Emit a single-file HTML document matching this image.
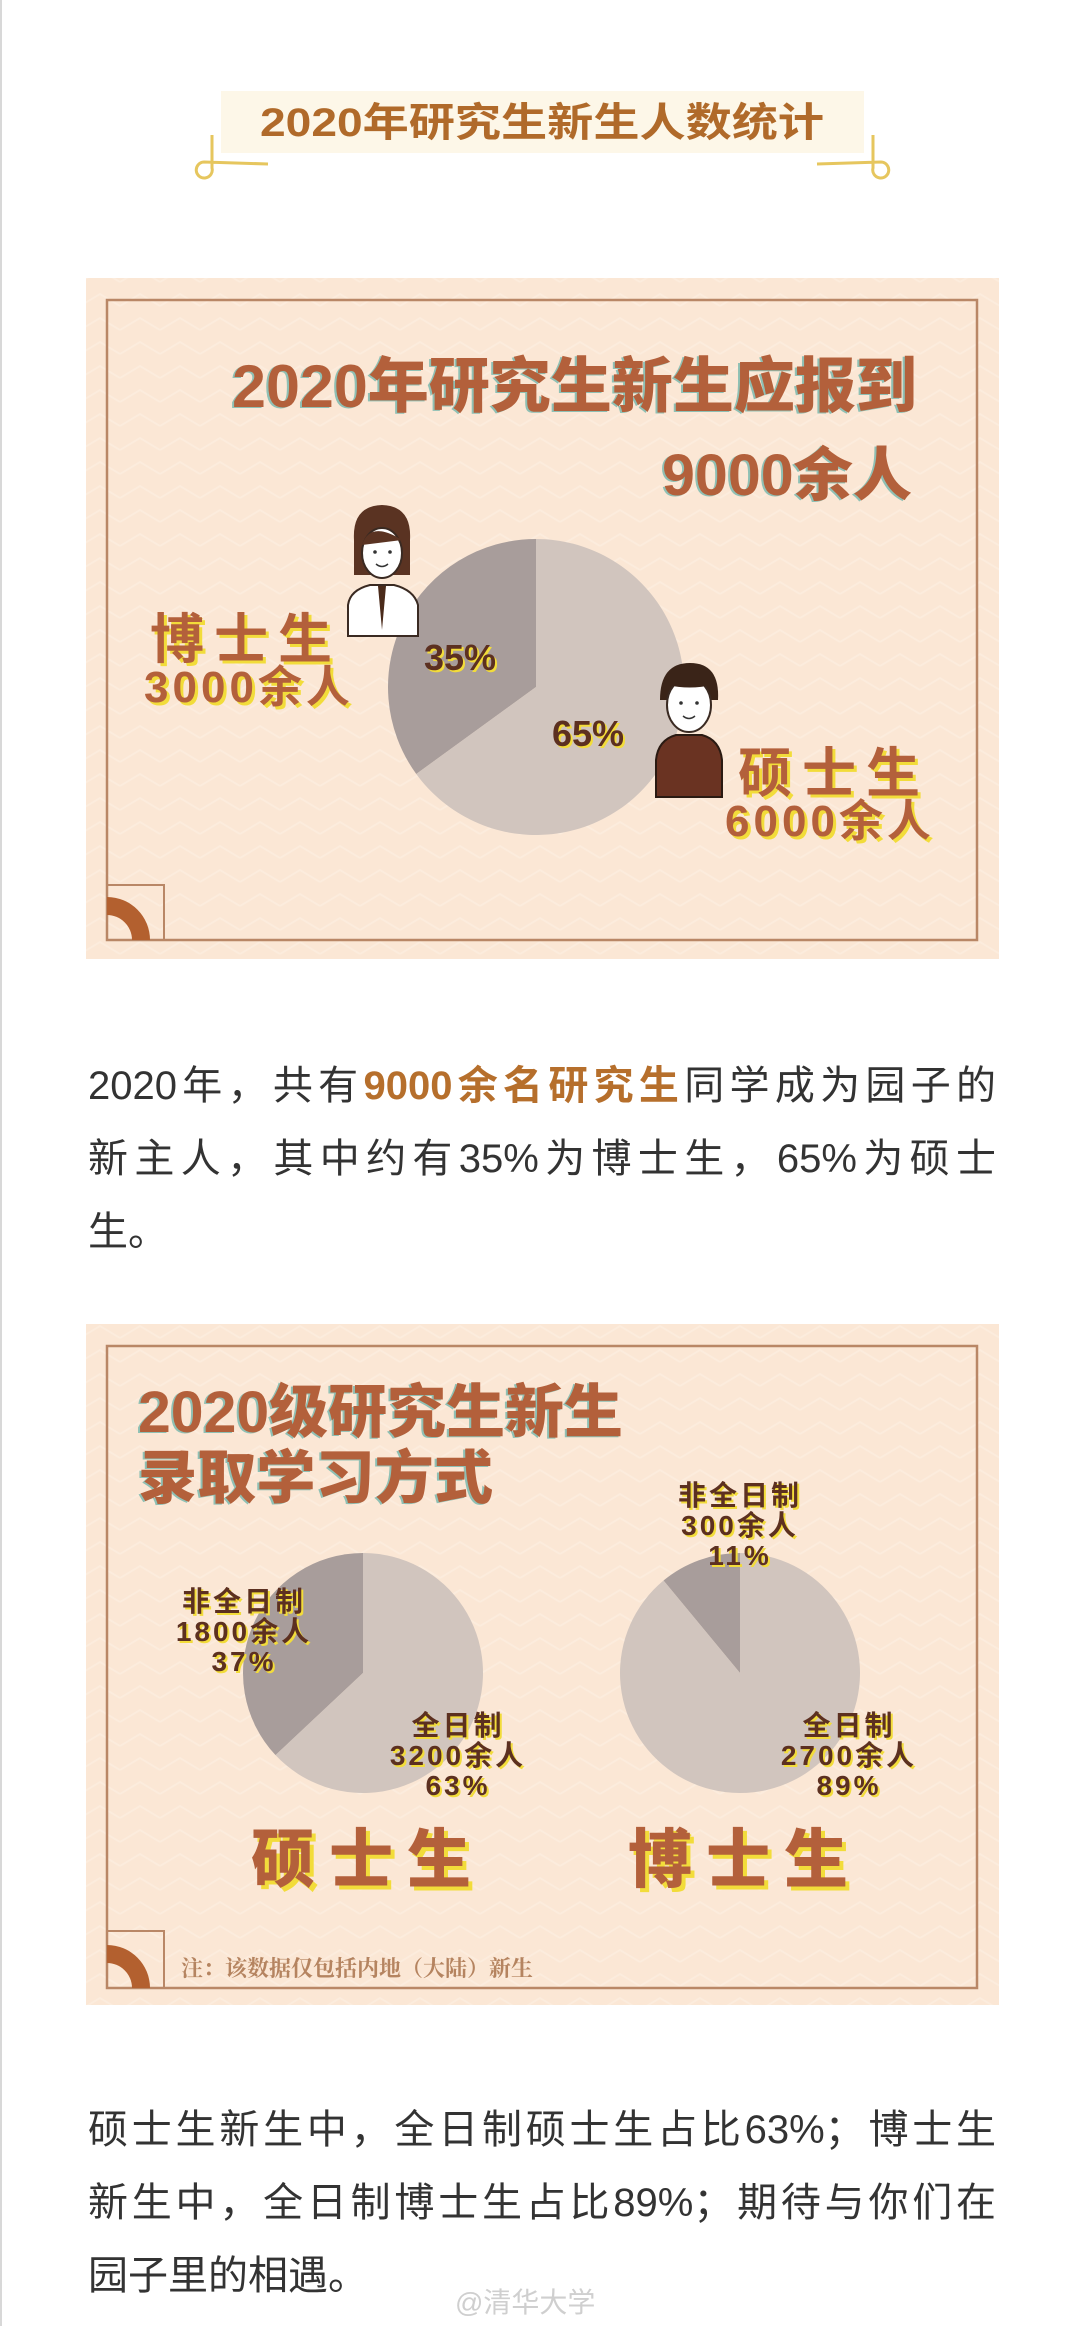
<!DOCTYPE html>
<html><head><meta charset="utf-8">
<style>
html,body{margin:0;padding:0;background:#fff;}
body{width:1080px;height:2326px;position:relative;overflow:hidden;font-family:"Liberation Sans","Noto Sans CJK SC",sans-serif;}
svg{position:absolute;left:0;top:0;}
.para{position:absolute;left:88px;width:908px;font-size:40px;color:#333;line-height:73px;font-family:"Liberation Sans","Noto Sans CJK SC",sans-serif;}
.line{display:block;height:73px;text-align:justify;text-align-last:justify;white-space:nowrap;}
.line.last{text-align-last:left;}
.hl{color:#b66f2c;font-weight:bold;}
</style></head>
<body>
<svg id="page" width="1080" height="2326" viewBox="0 0 1080 2326">
<defs>
<pattern id="chev" width="40" height="24" patternUnits="userSpaceOnUse">
<rect width="40" height="24" fill="#fbe7d5"/>
<path d="M0 18 L20 6 L40 18" fill="none" stroke="#fcecdd" stroke-width="2"/>
</pattern>
</defs>
<line x1="1" y1="0" x2="1" y2="2326" stroke="#d8d8d8" stroke-width="2"/>
<g>
<rect x="221" y="91" width="643" height="62" fill="#fdf7e8"/>
<text x="542" y="136" text-anchor="middle" font-size="40" font-weight="bold" fill="#b06a2a" textLength="564" lengthAdjust="spacingAndGlyphs" font-family="Liberation Sans, Noto Sans CJK SC, sans-serif">2020年研究生新生人数统计</text>
<g fill="none" stroke="#e6c65e" stroke-width="3">
<path d="M212 135 L212 168 A8 8 0 1 1 204 162 L268 164"/>
</g>
<g fill="none" stroke="#e6c65e" stroke-width="3">
<path d="M873 135 L873 168 A8 8 0 1 0 881 162 L817 164"/>
</g>
</g>

<g>
<rect x="86" y="278" width="913" height="681" fill="url(#chev)"/>
<rect x="107" y="300" width="870" height="640" fill="none" stroke="#b98766" stroke-width="2.5"/>
<rect x="107" y="885" width="57" height="55" fill="none" stroke="#b98766" stroke-width="2"/>
<path d="M107 897 A43 43 0 0 1 150 940 L132 940 A25 25 0 0 0 107 915 Z" fill="#b3602f"/>
<text x="917" y="407" text-anchor="end" font-size="60" font-weight="900" fill="#b3603b" textLength="685" lengthAdjust="spacingAndGlyphs" style="text-shadow:-2px 1px 0 #8fc0b4" font-family="Liberation Sans, Noto Sans CJK SC, sans-serif">2020年研究生新生应报到</text>
<text x="912" y="495" text-anchor="end" font-size="58" font-weight="900" fill="#b3603b" textLength="250" lengthAdjust="spacingAndGlyphs" style="text-shadow:-2px 1px 0 #8fc0b4" font-family="Liberation Sans, Noto Sans CJK SC, sans-serif">9000余人</text>
<g id="pie1"></g>
<g>
<path d="M354 540 Q352 506 382 505 Q412 506 410 540 L410 575 L354 575 Z" fill="#5a3322"/>
<ellipse cx="382" cy="553" rx="20" ry="25" fill="#fff" stroke="#3a2a22" stroke-width="2"/>
<path d="M362 545 Q370 520 402 540" fill="#5a3322"/>
<path d="M348 636 L348 605 Q350 590 370 585 L394 585 Q414 590 418 605 L418 636 Z" fill="#fff" stroke="#3a2a22" stroke-width="2"/>
<path d="M378 586 L382 630 L386 586 Z" fill="#4a2a1a"/>
<circle cx="375" cy="552" r="1.8" fill="#333"/><circle cx="390" cy="552" r="1.8" fill="#333"/>
<path d="M376 564 Q382 569 388 564" fill="none" stroke="#333" stroke-width="1.5"/>
</g>
<g>
<path d="M660 700 Q660 663 690 663 Q720 663 718 700 Z" fill="#3a2418"/>
<ellipse cx="689" cy="705" rx="22" ry="27" fill="#fff" stroke="#3a2a22" stroke-width="2"/>
<path d="M667 695 Q670 672 690 672 Q712 672 712 695 L712 685 Q690 690 667 685 Z" fill="#3a2418"/>
<circle cx="681" cy="703" r="1.8" fill="#333"/><circle cx="697" cy="703" r="1.8" fill="#333"/>
<path d="M683 716 Q689 721 695 716" fill="none" stroke="#333" stroke-width="1.5"/>
<path d="M656 797 L656 760 Q658 740 676 735 L702 735 Q720 740 722 760 L722 797 Z" fill="#6a3322" stroke="#2a1a12" stroke-width="2"/>
</g>
<g font-family="Liberation Sans, Noto Sans CJK SC, sans-serif" font-weight="bold" text-anchor="middle">
<text id="p1a" x="460" y="670" font-size="36" fill="#5c3020" style="text-shadow:2px 2px 0 #f2dc3a"></text>
<text id="p1b" x="588" y="746" font-size="36" fill="#5c3020" style="text-shadow:2px 2px 0 #f2dc3a"></text>
<text x="246" y="658" font-size="54" fill="#b3603b" letter-spacing="10" style="text-shadow:3px 3px 0 #f2dc3a">博士生</text>
<text x="249" y="702" font-size="44" fill="#b3603b" letter-spacing="4" style="text-shadow:3px 3px 0 #f2dc3a">3000余人</text>
<text x="834" y="792" font-size="54" fill="#b3603b" letter-spacing="10" style="text-shadow:3px 3px 0 #f2dc3a">硕士生</text>
<text x="830" y="836" font-size="44" fill="#b3603b" letter-spacing="4" style="text-shadow:3px 3px 0 #f2dc3a">6000余人</text>
</g>
</g>

<g>
<rect x="86" y="1324" width="913" height="681" fill="url(#chev)"/>
<rect x="107" y="1346" width="870" height="642" fill="none" stroke="#b98766" stroke-width="2.5"/>
<rect x="107" y="1931" width="57" height="57" fill="none" stroke="#b98766" stroke-width="2"/>
<path d="M107 1945 A43 43 0 0 1 150 1988 L132 1988 A25 25 0 0 0 107 1963 Z" fill="#b3602f"/>
<g font-family="Liberation Sans, Noto Sans CJK SC, sans-serif" font-weight="900" fill="#b3603b" style="text-shadow:-2px 1px 0 #8fc0b4">
<text x="138" y="1432" font-size="58" textLength="485" lengthAdjust="spacingAndGlyphs">2020级研究生新生</text>
<text x="138" y="1498" font-size="58" textLength="355" lengthAdjust="spacingAndGlyphs">录取学习方式</text>
</g>
<g id="pie2"></g>
<g id="pie3"></g>
<g id="pieLabels" font-family="Liberation Sans, Noto Sans CJK SC, sans-serif" font-weight="bold" text-anchor="middle" fill="#5c3020" font-size="28" letter-spacing="3" style="text-shadow:2px 2px 0 #f2dc3a"></g>
<g font-family="Liberation Sans, Noto Sans CJK SC, sans-serif" font-weight="900" text-anchor="middle" fill="#b3603b" font-size="64" letter-spacing="14" style="text-shadow:4px 4px 0 #f2dc3a">
<text x="368" y="1882">硕士生</text>
<text x="745" y="1882">博士生</text>
</g>
<text x="181" y="1976" font-size="22" font-weight="bold" fill="#b58460" font-family="Liberation Serif, Noto Serif CJK SC, serif">注：该数据仅包括内地（大陆）新生</text>
</g>
<text x="455" y="2312" font-size="28" fill="#cfcfcf" font-family="Liberation Sans, Noto Sans CJK SC, sans-serif">@清华大学</text>
</svg>

<div class="para" style="top:1050px;">
<span class="line">2020年，共有<span class="hl">9000余名研究生</span>同学成为园子的</span>
<span class="line">新主人，其中约有35%为博士生，65%为硕士</span>
<span class="line last">生。</span>
</div>
<div class="para" style="top:2094px;">
<span class="line">硕士生新生中，全日制硕士生占比63%；博士生</span>
<span class="line">新生中，全日制博士生占比89%；期待与你们在</span>
<span class="line last">园子里的相遇。</span>
</div>

<script>
// Chart data
const degreeCategories = ['博士生', '硕士生'];
const degreeShares = [35, 65];
const masterModeCategories = ['非全日制', '全日制'];
const masterModeShares = [37, 63];
const masterModeCounts = ['1800余人', '3200余人'];
const doctoralModeCategories = ['非全日制', '全日制'];
const doctoralModeShares = [11, 89];
const doctoralModeCounts = ['300余人', '2700余人'];

const NS = 'http://www.w3.org/2000/svg';
const DARK = '#a89d9b', LIGHT = '#d1c5be';

function pt(cx, cy, r, frac) {
  const a = -Math.PI / 2 - frac * 2 * Math.PI;
  return [cx + r * Math.cos(a), cy + r * Math.sin(a)];
}
function drawPie(g, cx, cy, r, shares, names) {
  const total = shares.reduce((s, v) => s + v, 0);
  let acc = 0;
  shares.forEach((v, i) => {
    const f0 = acc / total, f1 = (acc + v) / total;
    acc += v;
    const p0 = pt(cx, cy, r, f0), p1 = pt(cx, cy, r, f1);
    const large = (f1 - f0) > 0.5 ? 1 : 0;
    const path = document.createElementNS(NS, 'path');
    path.setAttribute('d', `M${cx},${cy} L${p0[0]},${p0[1]} A${r},${r} 0 ${large} 0 ${p1[0]},${p1[1]} Z`);
    path.setAttribute('fill', i === 0 ? DARK : LIGHT);
    
    
    g.appendChild(path);
  });
}
drawPie(document.getElementById('pie1'), 536, 687, 148, degreeShares, ['doctoral', 'master']);
drawPie(document.getElementById('pie2'), 363, 1673, 120, masterModeShares, ['part-time', 'full-time']);
drawPie(document.getElementById('pie3'), 740, 1673, 120, doctoralModeShares, ['part-time', 'full-time']);

document.getElementById('p1a').textContent = degreeShares[0] + '%';
document.getElementById('p1b').textContent = degreeShares[1] + '%';

const lg = document.getElementById('pieLabels');
function addLabel(x, y, txt, name) {
  const t = document.createElementNS(NS, 'text');
  t.setAttribute('x', x);
  t.setAttribute('y', y);
  t.textContent = txt;
  
  
  lg.appendChild(t);
}
function labelBlock(x, y, cat, count, share, name) {
  addLabel(x, y, cat, name + '-category');
  addLabel(x, y + 30, count, name + '-count');
  addLabel(x, y + 60, share + '%', name + '-pct');
}
labelBlock(244, 1611, masterModeCategories[0], masterModeCounts[0], masterModeShares[0], 'master-part-time');
labelBlock(458, 1735, masterModeCategories[1], masterModeCounts[1], masterModeShares[1], 'master-full-time');
labelBlock(740, 1505, doctoralModeCategories[0], doctoralModeCounts[0], doctoralModeShares[0], 'doctoral-part-time');
labelBlock(849, 1735, doctoralModeCategories[1], doctoralModeCounts[1], doctoralModeShares[1], 'doctoral-full-time');
</script>
</body></html>
